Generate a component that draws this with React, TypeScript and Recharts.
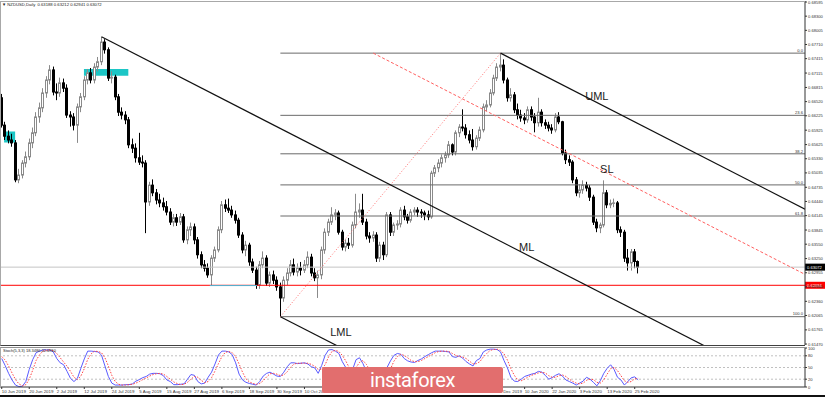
import React from 'react';
import {
  ComposedChart,
  Bar,
  Line,
  XAxis,
  YAxis,
  ReferenceLine,
  ReferenceArea,
  ReferenceDot,
} from 'recharts';

// NZDUSD daily candles, [open, high, low, close]
type Candle = [number, number, number, number];

const jun2019: Candle[] = [
  [0.6660, 0.6668, 0.6598, 0.6603],
  [0.6603, 0.6610, 0.6572, 0.6580],
  [0.6580, 0.6592, 0.6565, 0.6572],
  [0.6572, 0.6585, 0.6558, 0.6566],
  [0.6566, 0.6572, 0.6484, 0.6489],
  [0.6489, 0.6512, 0.6482, 0.6499],
  [0.6499, 0.6530, 0.6492, 0.6524],
  [0.6524, 0.6548, 0.6515, 0.6537],
  [0.6537, 0.6575, 0.6530, 0.6566],
  [0.6566, 0.6598, 0.6555, 0.6587],
  [0.6587, 0.6630, 0.6580, 0.6620],
  [0.6620, 0.6650, 0.6608, 0.6639],
  [0.6639, 0.6680, 0.6630, 0.6670],
  [0.6670, 0.6705, 0.6660, 0.6697],
  [0.6697, 0.6728, 0.6688, 0.6718],
];

const jul2019: Candle[] = [
  [0.6718, 0.6725, 0.6665, 0.6672],
  [0.6672, 0.6690, 0.6655, 0.6670],
  [0.6670, 0.6702, 0.6662, 0.6691],
  [0.6691, 0.6700, 0.6672, 0.6680],
  [0.6680, 0.6688, 0.6618, 0.6624],
  [0.6624, 0.6632, 0.6600, 0.6620],
  [0.6620, 0.6628, 0.6592, 0.6603],
  [0.6603, 0.6648, 0.6566, 0.6641],
  [0.6641, 0.6670, 0.6630, 0.6662],
  [0.6662, 0.6705, 0.6655, 0.6697],
  [0.6697, 0.6720, 0.6688, 0.6712],
  [0.6712, 0.6722, 0.6690, 0.6697],
  [0.6697, 0.6732, 0.6690, 0.6724],
  [0.6724, 0.6745, 0.6715, 0.6735],
  [0.6735, 0.6787, 0.6728, 0.6776],
  [0.6776, 0.6782, 0.6752, 0.6760],
  [0.6760, 0.6765, 0.6695, 0.6701],
  [0.6701, 0.6715, 0.6690, 0.6703],
  [0.6703, 0.6708, 0.6655, 0.6662],
  [0.6662, 0.6668, 0.6622, 0.6630],
  [0.6630, 0.6640, 0.6615, 0.6624],
  [0.6624, 0.6632, 0.6605, 0.6614],
  [0.6614, 0.6620, 0.6555, 0.6562],
];

const aug2019: Candle[] = [
  [0.6562, 0.6575, 0.6545, 0.6555],
  [0.6555, 0.6565, 0.6525, 0.6535],
  [0.6535, 0.6587, 0.6520, 0.6526],
  [0.6526, 0.6540, 0.6515, 0.6524],
  [0.6524, 0.6530, 0.6378, 0.6443],
  [0.6443, 0.6485, 0.6435, 0.6478],
  [0.6478, 0.6490, 0.6455, 0.6462],
  [0.6462, 0.6470, 0.6438, 0.6447],
  [0.6447, 0.6460, 0.6432, 0.6441],
  [0.6441, 0.6452, 0.6425, 0.6433],
  [0.6433, 0.6445, 0.6415, 0.6422],
  [0.6422, 0.6430, 0.6395, 0.6401],
  [0.6401, 0.6418, 0.6392, 0.6410],
  [0.6410, 0.6418, 0.6393, 0.6401],
  [0.6401, 0.6420, 0.6395, 0.6412],
  [0.6412, 0.6418, 0.6358, 0.6364],
  [0.6364, 0.6392, 0.6355, 0.6385],
  [0.6385, 0.6400, 0.6372, 0.6391],
  [0.6391, 0.6398, 0.6355, 0.6364],
  [0.6364, 0.6370, 0.6325, 0.6333],
  [0.6333, 0.6340, 0.6305, 0.6312],
  [0.6312, 0.6322, 0.6298, 0.6305],
];

const sep2019: Candle[] = [
  [0.6305, 0.6315, 0.6285, 0.6291],
  [0.6291, 0.6332, 0.6270, 0.6326],
  [0.6326, 0.6350, 0.6318, 0.6343],
  [0.6343, 0.6392, 0.6338, 0.6385],
  [0.6385, 0.6445, 0.6378, 0.6437],
  [0.6437, 0.6448, 0.6422, 0.6430],
  [0.6430, 0.6450, 0.6420, 0.6426],
  [0.6426, 0.6435, 0.6410, 0.6416],
  [0.6416, 0.6425, 0.6398, 0.6405],
  [0.6405, 0.6410, 0.6368, 0.6374],
  [0.6374, 0.6380, 0.6336, 0.6343],
  [0.6343, 0.6362, 0.6330, 0.6353],
  [0.6353, 0.6358, 0.6310, 0.6318],
  [0.6318, 0.6325, 0.6295, 0.6301],
  [0.6301, 0.6308, 0.6262, 0.6270],
  [0.6270, 0.6320, 0.6262, 0.6312],
  [0.6312, 0.6340, 0.6305, 0.6326],
  [0.6326, 0.6332, 0.6268, 0.6274],
  [0.6274, 0.6298, 0.6266, 0.6291],
  [0.6291, 0.6300, 0.6272, 0.6280],
  [0.6280, 0.6288, 0.6258, 0.6266],
];

const oct2019: Candle[] = [
  [0.6266, 0.6275, 0.6204, 0.6243],
  [0.6243, 0.6288, 0.6235, 0.6280],
  [0.6280, 0.6305, 0.6270, 0.6295],
  [0.6295, 0.6322, 0.6288, 0.6312],
  [0.6312, 0.6325, 0.6290, 0.6297],
  [0.6297, 0.6315, 0.6288, 0.6305],
  [0.6305, 0.6318, 0.6290, 0.6301],
  [0.6301, 0.6322, 0.6295, 0.6312],
  [0.6312, 0.6340, 0.6305, 0.6328],
  [0.6328, 0.6335, 0.6288, 0.6295],
  [0.6295, 0.6305, 0.6278, 0.6285],
  [0.6285, 0.6300, 0.6243, 0.6291],
  [0.6291, 0.6350, 0.6282, 0.6343],
  [0.6343, 0.6388, 0.6335, 0.6380],
  [0.6380, 0.6408, 0.6372, 0.6401],
  [0.6401, 0.6432, 0.6395, 0.6416],
  [0.6416, 0.6428, 0.6405, 0.6420],
  [0.6420, 0.6425, 0.6375, 0.6380],
  [0.6380, 0.6385, 0.6342, 0.6349],
  [0.6349, 0.6365, 0.6340, 0.6357],
  [0.6357, 0.6368, 0.6345, 0.6353],
  [0.6353, 0.6402, 0.6348, 0.6395],
  [0.6395, 0.6460, 0.6388, 0.6422],
];

const nov2019: Candle[] = [
  [0.6422, 0.6440, 0.6410, 0.6426],
  [0.6426, 0.6460, 0.6395, 0.6401],
  [0.6401, 0.6408, 0.6365, 0.6372],
  [0.6372, 0.6380, 0.6358, 0.6368],
  [0.6368, 0.6382, 0.6360, 0.6374],
  [0.6374, 0.6380, 0.6318, 0.6326],
  [0.6326, 0.6360, 0.6318, 0.6353],
  [0.6353, 0.6360, 0.6322, 0.6333],
  [0.6333, 0.6422, 0.6328, 0.6416],
  [0.6416, 0.6422, 0.6372, 0.6380],
  [0.6380, 0.6400, 0.6372, 0.6395],
  [0.6395, 0.6405, 0.6385, 0.6397],
  [0.6397, 0.6432, 0.6390, 0.6426],
  [0.6426, 0.6435, 0.6405, 0.6412],
  [0.6412, 0.6418, 0.6398, 0.6405],
  [0.6405, 0.6428, 0.6400, 0.6422],
  [0.6422, 0.6432, 0.6415, 0.6426],
  [0.6426, 0.6432, 0.6412, 0.6422],
  [0.6422, 0.6428, 0.6410, 0.6420],
  [0.6420, 0.6425, 0.6405, 0.6416],
  [0.6416, 0.6425, 0.6405, 0.6412],
];

const dec2019: Candle[] = [
  [0.6412, 0.6508, 0.6408, 0.6503],
  [0.6503, 0.6520, 0.6495, 0.6514],
  [0.6514, 0.6532, 0.6505, 0.6524],
  [0.6524, 0.6542, 0.6515, 0.6535],
  [0.6535, 0.6548, 0.6525, 0.6541],
  [0.6541, 0.6570, 0.6535, 0.6562],
  [0.6562, 0.6565, 0.6540, 0.6547],
  [0.6547, 0.6592, 0.6540, 0.6587],
  [0.6587, 0.6605, 0.6578, 0.6599],
  [0.6599, 0.6636, 0.6590, 0.6597],
  [0.6597, 0.6605, 0.6575, 0.6583],
  [0.6583, 0.6592, 0.6565, 0.6572],
  [0.6572, 0.6595, 0.6550, 0.6558],
  [0.6558, 0.6582, 0.6552, 0.6576],
  [0.6576, 0.6600, 0.6570, 0.6593],
  [0.6593, 0.6648, 0.6588, 0.6641],
  [0.6641, 0.6655, 0.6632, 0.6645],
  [0.6645, 0.6678, 0.6640, 0.6670],
  [0.6670, 0.6708, 0.6665, 0.6701],
  [0.6701, 0.6732, 0.6695, 0.6724],
  [0.6724, 0.6753, 0.6715, 0.6728],
];

const jan2020: Candle[] = [
  [0.6728, 0.6740, 0.6690, 0.6697],
  [0.6697, 0.6702, 0.6652, 0.6660],
  [0.6660, 0.6680, 0.6652, 0.6666],
  [0.6666, 0.6672, 0.6628, 0.6635],
  [0.6635, 0.6648, 0.6615, 0.6624],
  [0.6624, 0.6635, 0.6610, 0.6618],
  [0.6618, 0.6628, 0.6605, 0.6614],
  [0.6614, 0.6642, 0.6608, 0.6635],
  [0.6635, 0.6642, 0.6612, 0.6620],
  [0.6620, 0.6628, 0.6588, 0.6608],
  [0.6608, 0.6660, 0.6600, 0.6630],
  [0.6630, 0.6636, 0.6600, 0.6608],
  [0.6608, 0.6615, 0.6595, 0.6603],
  [0.6603, 0.6610, 0.6590, 0.6597],
  [0.6597, 0.6605, 0.6585, 0.6593],
  [0.6593, 0.6628, 0.6588, 0.6620],
  [0.6620, 0.6630, 0.6605, 0.6610],
  [0.6610, 0.6612, 0.6540, 0.6545],
  [0.6545, 0.6552, 0.6522, 0.6531],
  [0.6531, 0.6540, 0.6518, 0.6526],
  [0.6526, 0.6530, 0.6482, 0.6489],
  [0.6489, 0.6495, 0.6455, 0.6462],
];

const feb2020: Candle[] = [
  [0.6462, 0.6480, 0.6452, 0.6468],
  [0.6468, 0.6488, 0.6460, 0.6478],
  [0.6478, 0.6485, 0.6465, 0.6472],
  [0.6472, 0.6478, 0.6445, 0.6453],
  [0.6453, 0.6458, 0.6395, 0.6401],
  [0.6401, 0.6408, 0.6380, 0.6389],
  [0.6389, 0.6400, 0.6378, 0.6395],
  [0.6395, 0.6488, 0.6390, 0.6462],
  [0.6462, 0.6468, 0.6430, 0.6437],
  [0.6437, 0.6448, 0.6430, 0.6440],
  [0.6440, 0.6450, 0.6432, 0.6441],
  [0.6441, 0.6445, 0.6378, 0.6385],
  [0.6385, 0.6392, 0.6370, 0.6380],
  [0.6380, 0.6385, 0.6318, 0.6326],
  [0.6326, 0.6345, 0.6300, 0.6316],
  [0.6316, 0.6345, 0.6300, 0.6339],
  [0.6339, 0.6345, 0.6305, 0.6319],
  [0.63188, 0.63212, 0.62941, 0.63072],
];

// Stochastic(5,3,3): %K main line and %D signal
const stochK = [
  73, 55, 35, 18, 5, 1, 2, 14, 45, 70,
  88, 92, 95, 95, 95, 90, 73, 62, 57, 40,
  22, 14, 22, 48, 72, 92, 92, 91, 90, 82,
  54, 27, 10, 5, 5, 5, 6, 6, 8, 15,
  19, 24, 27, 33, 35, 35, 34, 29, 18, 14,
  6, 6, 7, 8, 20, 32, 30, 14, 8, 10,
  25, 38, 59, 82, 92, 92, 90, 83, 62, 33,
  18, 12, 9, 7, 5, 14, 28, 35, 38, 33,
  28, 27, 38, 52, 62, 62, 60, 61, 62, 59,
  52, 49, 35, 55, 81, 95, 96, 92, 86, 65,
  50, 35, 45, 70, 75, 60, 40, 30, 30, 15,
  25, 20, 50, 67, 81, 86, 84, 73, 67, 64,
  63, 68, 72, 78, 83, 88, 92, 92, 92, 91,
  90, 78, 76, 80, 74, 65, 59, 54, 68, 73,
  90, 95, 97, 97, 96, 90, 68, 49, 25, 15,
  14, 20, 27, 30, 33, 35, 40, 38, 30, 20,
  24, 30, 34, 28, 18, 14, 10, 5, 10, 15,
  25, 20, 12, 3, 16, 35, 48, 57, 45, 25,
  18, 5, 14, 23.7, 26, 18.3486,
];

const stochD = [
  78, 69, 54, 36, 19, 8, 3, 6, 20, 43,
  68, 83, 92, 94, 95, 93, 86, 75, 64, 53,
  40, 25, 19, 28, 47, 71, 85, 92, 91, 88,
  75, 54, 30, 14, 7, 5, 5, 6, 7, 10,
  14, 19, 23, 28, 32, 34, 35, 33, 27, 20,
  13, 9, 6, 7, 12, 20, 27, 25, 17, 11,
  14, 24, 41, 60, 78, 89, 91, 88, 78, 59,
  38, 21, 13, 9, 7, 9, 16, 26, 34, 35,
  33, 29, 31, 39, 51, 59, 61, 61, 61, 61,
  58, 53, 45, 46, 57, 77, 91, 94, 91, 81,
  67, 50, 43, 50, 63, 68, 58, 43, 33, 25,
  23, 20, 32, 46, 66, 78, 84, 81, 75, 68,
  65, 65, 68, 73, 78, 83, 88, 91, 92, 92,
  91, 86, 81, 78, 77, 73, 66, 59, 60, 65,
  77, 86, 94, 96, 97, 94, 85, 69, 47, 30,
  18, 16, 20, 26, 30, 33, 36, 38, 36, 29,
  25, 25, 29, 31, 27, 20, 14, 10, 8, 10,
  17, 20, 19, 12, 10, 18, 33, 47, 50, 42,
  29, 16, 12, 14, 21, 22.695,
];

// date labels every 8 bars (the ones under the watermark are not visible)
const tickBars = [0, 8, 16, 24, 32, 40, 48, 56, 64, 72, 80, 88, 144, 152, 160, 168, 176, 184];
const tickLabels = [
  '10 Jun 2019', '20 Jun 2019', '2 Jul 2019', '12 Jul 2019', '24 Jul 2019', '5 Aug 2019',
  '15 Aug 2019', '27 Aug 2019', '6 Sep 2019', '18 Sep 2019', '30 Sep 2019', '10 Oct 2019',
  '30 Dec 2019', '10 Jan 2020', '22 Jan 2020', '3 Feb 2020', '13 Feb 2020', '25 Feb 2020',
];

const priceTicks = [
  0.68595, 0.683, 0.68005, 0.6771, 0.67415, 0.67115, 0.66815, 0.6652, 0.66225, 0.65925,
  0.65625, 0.6533, 0.65035, 0.64735, 0.6444, 0.64145, 0.63845, 0.6355, 0.6325, 0.62955,
  0.6266, 0.6236, 0.62065, 0.61765, 0.6147,
];
const stochTicks = [0, 20, 50, 80, 100];

// pitchfork pivots (bar index, price)
const pivotA = { i: 29, p: 0.6787 };
const pivotB = { i: 81, p: 0.6204 };
const pivotC = { i: 145, p: 0.6753 };
const slStart = { i: 108, p: 0.6753 };
const fibLevels = [0, 23.6, 38.2, 50, 61.8, 100];

const lastClose = 0.63072;
const supportLevel = 0.62694;
const septLow = 0.62688;

const candles = [...jun2019, ...jul2019, ...aug2019, ...sep2019, ...oct2019, ...nov2019, ...dec2019, ...jan2020, ...feb2020];
const rows = candles.map(([o, h, l, c], i) => ({ i, o, h, l, c, range: [l, h], k: stochK[i], d: stochD[i] }));

const X_END = 233.5;
const X_DOMAIN: [number, number] = [-0.5, X_END];
const midBC = { i: (pivotB.i + pivotC.i) / 2, p: (pivotB.p + pivotC.p) / 2 };
const slope = (midBC.p - pivotA.p) / (midBC.i - pivotA.i);
const along = (a: { i: number; p: number }) => [
  { x: a.i, y: a.p },
  { x: X_END, y: a.p + slope * (X_END - a.i) },
];

const font = 'Arial, "Liberation Sans", sans-serif';

function CandleShape(props: any) {
  const { x, y, width, height, payload } = props;
  if (!payload || height == null) return null;
  const { o, h, l, c } = payload;
  const top = Math.min(y, y + height);
  const span = Math.abs(height);
  const k = h > l ? span / (h - l) : 0;
  const yOf = (v: number) => top + (h - v) * k;
  const left = Math.round(x + width / 2 - 1.5);
  const up = c >= o;
  const col = up ? '#8a8a8a' : '#000';
  const bTop = yOf(Math.max(o, c));
  const bBot = yOf(Math.min(o, c));
  return (
    <g>
      <line x1={left + 1.5} x2={left + 1.5} y1={top} y2={top + span} stroke={col} />
      <rect x={left + 0.5} y={bTop} width={2} height={Math.max(bBot - bTop, 0.5)} fill={up ? '#fff' : '#000'} stroke={col} />
    </g>
  );
}

const priceTag = (text: string, bg: string) => (props: any) => {
  const vb = props.viewBox;
  const x = vb.x + vb.width;
  return (
    <g>
      <rect x={x} y={vb.y - 3.5} width={20} height={7} fill={bg} />
      <text x={x + 2} y={vb.y + 1.5} fontSize={4.1} fill="#fff" fontFamily={font}>{text}</text>
    </g>
  );
};

const fibTag = (text: string) => (props: any) => {
  const vb = props.viewBox;
  return (
    <text x={vb.x + vb.width - 2} y={vb.y - 1.2} fontSize={4.1} textAnchor="end" fill="#333" fontFamily={font}>{text}</text>
  );
};

const bigTag = (text: string) => (props: any) => {
  const vb = props.viewBox;
  return (
    <text x={vb.x + vb.width / 2} y={vb.y + vb.height / 2 + 4} fontSize={11} textAnchor="middle" fill="#1a1a1a" fontFamily={font}>{text}</text>
  );
};

const PriceTick = (props: any) => (
  <text x={props.x} y={props.y + 1.5} fontSize={4.1} fill="#333" fontFamily={font}>
    {props.payload.value.toFixed(5)}
  </text>
);

const StochTick = (props: any) => (
  <text x={props.x} y={props.y + 1.5} fontSize={4.1} fill="#333" fontFamily={font}>
    {props.payload.value}
  </text>
);

const DateTick = (props: any) => (
  <text x={props.x} y={props.y + 3.5} fontSize={4.4} fill="#333" fontFamily={font}>
    {tickLabels[tickBars.indexOf(props.payload.value)]}
  </text>
);

export default function App() {
  return (
    <div style={{ position: 'relative', width: 825, height: 397, background: '#fff', overflow: 'hidden', fontFamily: font }}>
      <style>{'body{margin:0}'}</style>

      <div style={{ position: 'absolute', left: 0, top: 0 }}>
        <ComposedChart width={825} height={350} data={rows} margin={{ top: 1, right: 0, bottom: 5, left: 0 }}>
          <XAxis dataKey="i" type="number" domain={X_DOMAIN} allowDataOverflow hide />
          <YAxis
            orientation="right"
            width={20}
            type="number"
            domain={[0.6145, 0.68616]}
            allowDataOverflow
            ticks={priceTicks}
            interval={0}
            tickSize={2}
            tickMargin={1}
            tick={PriceTick}
            axisLine={{ stroke: '#333' }}
            tickLine={{ stroke: '#333' }}
          />
          <ReferenceArea x1={0.7} x2={3.9} y1={0.6567} y2={0.659} fill="#1cc6c6" fillOpacity={1} stroke="none" ifOverflow="visible" />
          <ReferenceArea x1={23.9} x2={36.8} y1={0.6706} y2={0.672} fill="#1cc6c6" fillOpacity={1} stroke="none" ifOverflow="visible" />
          <ReferenceLine y={lastClose} stroke="#c4c4c4" label={priceTag('0.63072', '#000')} />
          <ReferenceLine y={supportLevel} stroke="#ff0000" label={priceTag('0.62694', '#ff0000')} />
          <ReferenceLine segment={[{ x: 60.5, y: septLow }, { x: 74.2, y: septLow }]} stroke="#4fb6d6" />
          {fibLevels.map((lv) => {
            const p = pivotC.p - (lv / 100) * (pivotC.p - pivotB.p);
            return (
              <ReferenceLine
                key={lv}
                segment={[{ x: pivotB.i, y: p }, { x: X_END, y: p }]}
                stroke="#6a6a6a"
                label={fibTag(lv.toFixed(1))}
              />
            );
          })}
          <Bar dataKey="range" barSize={3} shape={CandleShape} isAnimationActive={false} />
          <ReferenceLine segment={[{ x: pivotB.i, y: pivotB.p }, { x: pivotC.i, y: pivotC.p }]} stroke="#ff7070" strokeDasharray="1 2" />
          <ReferenceLine segment={along(slStart)} stroke="#ff6060" strokeDasharray="3 2" ifOverflow="hidden" />
          <ReferenceLine segment={along(pivotA)} stroke="#111" strokeWidth={1.2} ifOverflow="hidden" />
          <ReferenceLine segment={along(pivotC)} stroke="#111" strokeWidth={1.2} ifOverflow="hidden" />
          <ReferenceLine segment={along(pivotB)} stroke="#111" strokeWidth={1.2} ifOverflow="hidden" />
          <ReferenceDot x={173} y={0.66637} r={0} fill="none" stroke="none" label={bigTag('UML')} />
          <ReferenceDot x={175.9} y={0.65116} r={0} fill="none" stroke="none" label={bigTag('SL')} />
          <ReferenceDot x={152.6} y={0.63491} r={0} fill="none" stroke="none" label={bigTag('ML')} />
          <ReferenceDot x={98.6} y={0.6172} r={0} fill="none" stroke="none" label={bigTag('LML')} />
        </ComposedChart>
      </div>

      <div style={{ position: 'absolute', left: 0, top: 346 }}>
        <ComposedChart width={825} height={51} data={rows} margin={{ top: 2, right: 0, bottom: 0, left: 0 }}>
          <XAxis
            dataKey="i"
            type="number"
            domain={X_DOMAIN}
            allowDataOverflow
            ticks={tickBars}
            interval={0}
            height={10}
            tickSize={2}
            tickMargin={0}
            tick={DateTick}
            axisLine={{ stroke: '#333' }}
            tickLine={{ stroke: '#333' }}
          />
          <YAxis
            orientation="right"
            width={20}
            type="number"
            domain={[0, 100]}
            ticks={stochTicks}
            interval={0}
            tickSize={2}
            tickMargin={1}
            tick={StochTick}
            axisLine={{ stroke: '#333' }}
            tickLine={{ stroke: '#333' }}
          />
          <ReferenceLine y={80} stroke="#c0c0c0" strokeDasharray="2 2" />
          <ReferenceLine y={50} stroke="#c0c0c0" strokeDasharray="2 2" />
          <ReferenceLine y={20} stroke="#c0c0c0" strokeDasharray="2 2" />
          <Line dataKey="k" stroke="#5a5aff" strokeWidth={1} dot={false} isAnimationActive={false} />
          <Line dataKey="d" stroke="#ff4444" strokeWidth={1} strokeDasharray="1.5 1.5" dot={false} isAnimationActive={false} />
        </ComposedChart>
      </div>

      {/* panel frames */}
      <div style={{ position: 'absolute', left: 0, top: 1, width: 805, height: 345, boxSizing: 'border-box', borderTop: '1px solid #a8a8a8', borderLeft: '1px solid #a8a8a8', borderBottom: '1px solid #404040', pointerEvents: 'none' }} />
      <div style={{ position: 'absolute', left: 0, top: 347, width: 805, height: 41, boxSizing: 'border-box', borderTop: '1px solid #909090', borderLeft: '1px solid #a8a8a8', pointerEvents: 'none' }} />
      <div style={{ position: 'absolute', left: 0, top: 395, width: 825, height: 2, background: '#111' }} />

      <div style={{ position: 'absolute', left: 2, top: 2, fontSize: 4.2, color: '#222', whiteSpace: 'nowrap' }}>
        ▼ NZDUSD,Daily&nbsp; 0.63188 0.63212 0.62941 0.63072
      </div>
      <div style={{ position: 'absolute', left: 3, top: 348, fontSize: 4, color: '#222', whiteSpace: 'nowrap' }}>
        Stoch(5,3,3) 18.3486 22.6950
      </div>

      <div
        style={{
          position: 'absolute', left: 322, top: 367, width: 181, height: 26, background: '#e26e6e', borderRadius: 2,
          color: '#fff', fontFamily: 'Roboto, sans-serif', fontSize: 20, letterSpacing: -0.4, lineHeight: '26px', textAlign: 'center',
        }}
      >
        instaforex
      </div>
    </div>
  );
}
